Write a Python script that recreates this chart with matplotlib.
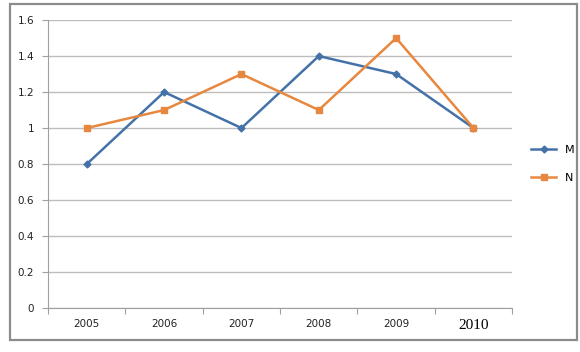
import matplotlib.pyplot as plt
from matplotlib.patches import Rectangle

# Data
years = ['2005', '2006', '2007', '2008', '2009', '2010']
m_vals = [0.8, 1.2, 1.0, 1.4, 1.3, 1.0]
n_vals = [1.0, 1.1, 1.3, 1.1, 1.5, 1.0]
y_ticks = [0, 0.2, 0.4, 0.6, 0.8, 1, 1.2, 1.4, 1.6]
y_labels = ['0', '0.2', '0.4', '0.6', '0.8', '1', '1.2', '1.4', '1.6']

fig = plt.figure(figsize=(5.8, 3.52), dpi=100)
ax = fig.add_axes([0.083, 0.125, 0.8, 0.818])

x = list(range(len(years)))
ax.plot(x, m_vals, color='#4472A8', lw=1.8, marker='D', ms=3.5, label='M')
ax.plot(x, n_vals, color='#E8873F', lw=1.8, marker='s', ms=4.5, label='N')

ax.set_xlim(-0.5, len(years) - 0.5)
ax.set_ylim(0, 1.6)
ax.set_yticks(y_ticks)
ax.set_yticklabels(y_labels, fontsize=7.5, color='#222222')
ax.yaxis.grid(True, color='#BDBDBD', lw=1)
ax.set_axisbelow(True)

# category ticks between the labels
ax.set_xticks([i - 0.5 for i in range(len(years) + 1)])
ax.set_xticklabels([])
ax.set_xticks(x, minor=True)
ax.set_xticklabels(years, minor=True, fontsize=7.5, color='#222222')
ax.tick_params(axis='x', which='minor', length=0, pad=8)
ax.tick_params(axis='x', which='major', length=4, color='#A0A0A0')
ax.tick_params(axis='y', length=4, color='#A0A0A0', pad=6)
lbl = ax.get_xticklabels(minor=True)[-1]
lbl.set_fontfamily('Liberation Serif')
lbl.set_fontsize(11)
lbl.set_color('black')

for s in ['top', 'right']:
    ax.spines[s].set_visible(False)
for s in ['left', 'bottom']:
    ax.spines[s].set_color('#A0A0A0')

ax.legend(loc='center left', bbox_to_anchor=(1.02, 0.5), frameon=False,
          fontsize=8, handlelength=2.2, labelspacing=1.6)

# outer chart frame
fig.patches.append(Rectangle((10 / 580, 12 / 352), 567 / 580, 336 / 352,
                             transform=fig.transFigure, fill=False,
                             edgecolor='#8C8C8C', lw=1.6))

fig.savefig('out.png', dpi=100)
